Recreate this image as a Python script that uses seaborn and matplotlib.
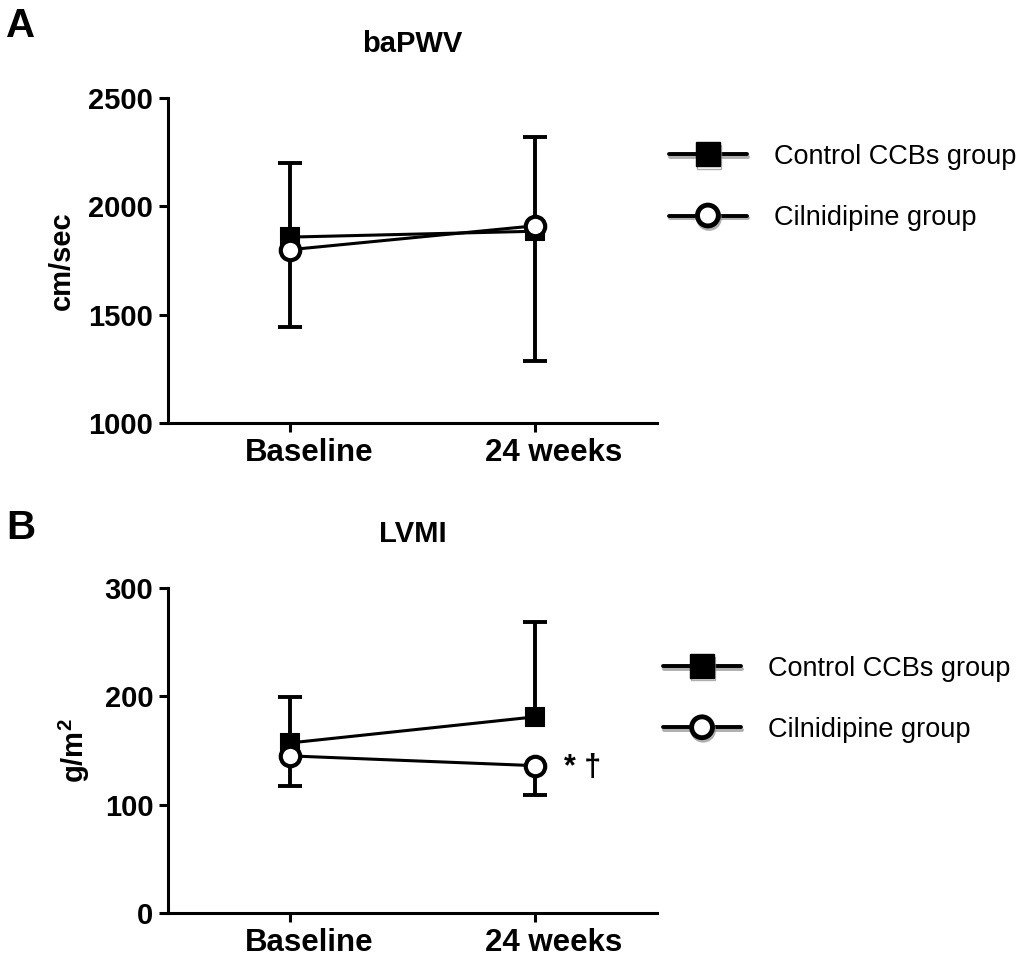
"""Two-panel figure: baPWV and LVMI at baseline vs 24 weeks, control CCBs vs cilnidipine."""

import matplotlib
matplotlib.use("Agg")
import matplotlib.pyplot as plt
import matplotlib.patheffects as pe
import matplotlib.transforms as mtransforms
from matplotlib.lines import Line2D
import numpy as np
import pandas as pd
import seaborn as sns

TIMEPOINTS = ["Baseline", "24 weeks"]
GROUPS = ["Control CCBs group", "Cilnidipine group"]

# baPWV (cm/sec): mean and SD (control drawn upward, cilnidipine downward)
BAPWV_CONTROL_MEAN = [1858, 1885]
BAPWV_CONTROL_SD = [342, 435]
BAPWV_CILNI_MEAN = [1800, 1910]
BAPWV_CILNI_SD = [355, 625]
BAPWV_TICKS = [1000, 1500, 2000, 2500]

# LVMI (g/m^2)
LVMI_CONTROL_MEAN = [157, 181]
LVMI_CONTROL_SD = [42, 88]
LVMI_CILNI_MEAN = [145, 136]
LVMI_CILNI_SD = [28, 27]
LVMI_TICKS = [0, 100, 200, 300]

sns.set_theme(style="ticks")
plt.rcParams["font.family"] = ["Liberation Sans", "DejaVu Sans"]
plt.rcParams["mathtext.fontset"] = "custom"
plt.rcParams["mathtext.rm"] = "Liberation Sans"
plt.rcParams["mathtext.bf"] = "Liberation Sans:bold"
plt.rcParams["text.color"] = "black"
plt.rcParams["axes.labelcolor"] = "black"


def draw_panel(fig, ax, ctrl_mean, ctrl_sd, cil_mean, cil_sd, title, ylabel, yticks, legend_anchor):
    x = np.arange(len(TIMEPOINTS))

    # one-sided error bars, hide the cap that would sit on the mean
    for mean, sd, upward in [(ctrl_mean, ctrl_sd, True), (cil_mean, cil_sd, False)]:
        zeros = np.zeros(len(sd))
        yerr = [zeros, sd] if upward else [sd, zeros]
        _, caps, _ = ax.errorbar(x, mean, yerr=yerr, fmt="none", ecolor="black",
                                 elinewidth=2.8, capsize=8.5, capthick=2.8, zorder=1)
        caps[0 if upward else 1].set_visible(False)

    df = pd.DataFrame({
        "x": np.concatenate([x, x]),
        "value": list(ctrl_mean) + list(cil_mean),
        "group": [GROUPS[0]] * len(x) + [GROUPS[1]] * len(x),
    })
    sns.lineplot(data=df[df["group"] == GROUPS[0]], x="x", y="value", color="black",
                 marker="s", markersize=12.5, markerfacecolor="black", markeredgecolor="black",
                 markeredgewidth=1.5, linewidth=2.2, ax=ax, zorder=3, legend=False)
    sns.lineplot(data=df[df["group"] == GROUPS[1]], x="x", y="value", color="black",
                 marker="o", markersize=14, markerfacecolor="white", markeredgecolor="black",
                 markeredgewidth=3, linewidth=2.2, ax=ax, zorder=4, legend=False)

    ax.set_xlim(-0.5, len(x) - 0.5)
    ax.set_ylim(yticks[0], yticks[-1])
    ax.set_yticks(yticks)
    ax.set_xticks(x, TIMEPOINTS)
    ax.set_xlabel("")
    ax.set_ylabel(ylabel, fontsize=21, fontweight="bold", labelpad=9)
    ax.set_title(title, fontsize=21, fontweight="bold", pad=33)

    sns.despine(ax=ax)
    for side in ["left", "bottom"]:
        ax.spines[side].set_linewidth(2.2)
        ax.spines[side].set_color("black")
    ax.tick_params(axis="both", length=6.5, width=2.2, color="black", direction="out")
    ax.tick_params(axis="y", labelsize=21, pad=4)
    ax.tick_params(axis="x", labelsize=22.5, pad=4)
    plt.setp(ax.get_xticklabels() + ax.get_yticklabels(), fontweight="bold", color="black")

    # category labels sit a little right of their ticks in the original
    shift = mtransforms.ScaledTranslation(19 / 100, 0, fig.dpi_scale_trans)
    for lbl in ax.get_xticklabels():
        lbl.set_transform(lbl.get_transform() + shift)

    shadow = [pe.SimpleLineShadow(offset=(0.8, -1.8), shadow_color="0.55", alpha=0.7), pe.Normal()]
    handles = [
        Line2D([], [], color="black", lw=2.8, marker="s", ms=17, mfc="black", mec="black",
               path_effects=shadow),
        Line2D([], [], color="black", lw=2.8, marker="o", ms=15, mfc="white", mec="black",
               mew=3.5, path_effects=shadow),
    ]
    ax.legend(handles, GROUPS, loc="center left", bbox_to_anchor=legend_anchor, frameon=False,
              fontsize=19.5, handlelength=2.9, handletextpad=1.0, labelspacing=1.3,
              borderpad=0, borderaxespad=0)
    return x


fig = plt.figure(figsize=(10.24, 9.6), dpi=100)
ax_a = fig.add_axes([0.164, 0.5594, 0.4775, 0.3385])
ax_b = fig.add_axes([0.164, 0.049, 0.4775, 0.3385])

draw_panel(fig, ax_a, BAPWV_CONTROL_MEAN, BAPWV_CONTROL_SD, BAPWV_CILNI_MEAN, BAPWV_CILNI_SD,
           "baPWV", "cm/sec", BAPWV_TICKS, (1.024, 0.725))
x = draw_panel(fig, ax_b, LVMI_CONTROL_MEAN, LVMI_CONTROL_SD, LVMI_CILNI_MEAN, LVMI_CILNI_SD,
               "LVMI", r"$\mathbf{g/m^2}$", LVMI_TICKS, (1.012, 0.658))

# significance marks next to the cilnidipine 24-week point
ax_b.annotate("* †", xy=(x[-1], LVMI_CILNI_MEAN[-1]), xytext=(21, -2), textcoords="offset points",
              ha="left", va="center", fontsize=22, fontweight="bold")

fig.text(0.006, 1 - 7 / 960, "A", fontsize=29, fontweight="bold", va="top")
fig.text(0.006, 1 - 509 / 960, "B", fontsize=29, fontweight="bold", va="top")

fig.savefig("out.png", dpi=100)
